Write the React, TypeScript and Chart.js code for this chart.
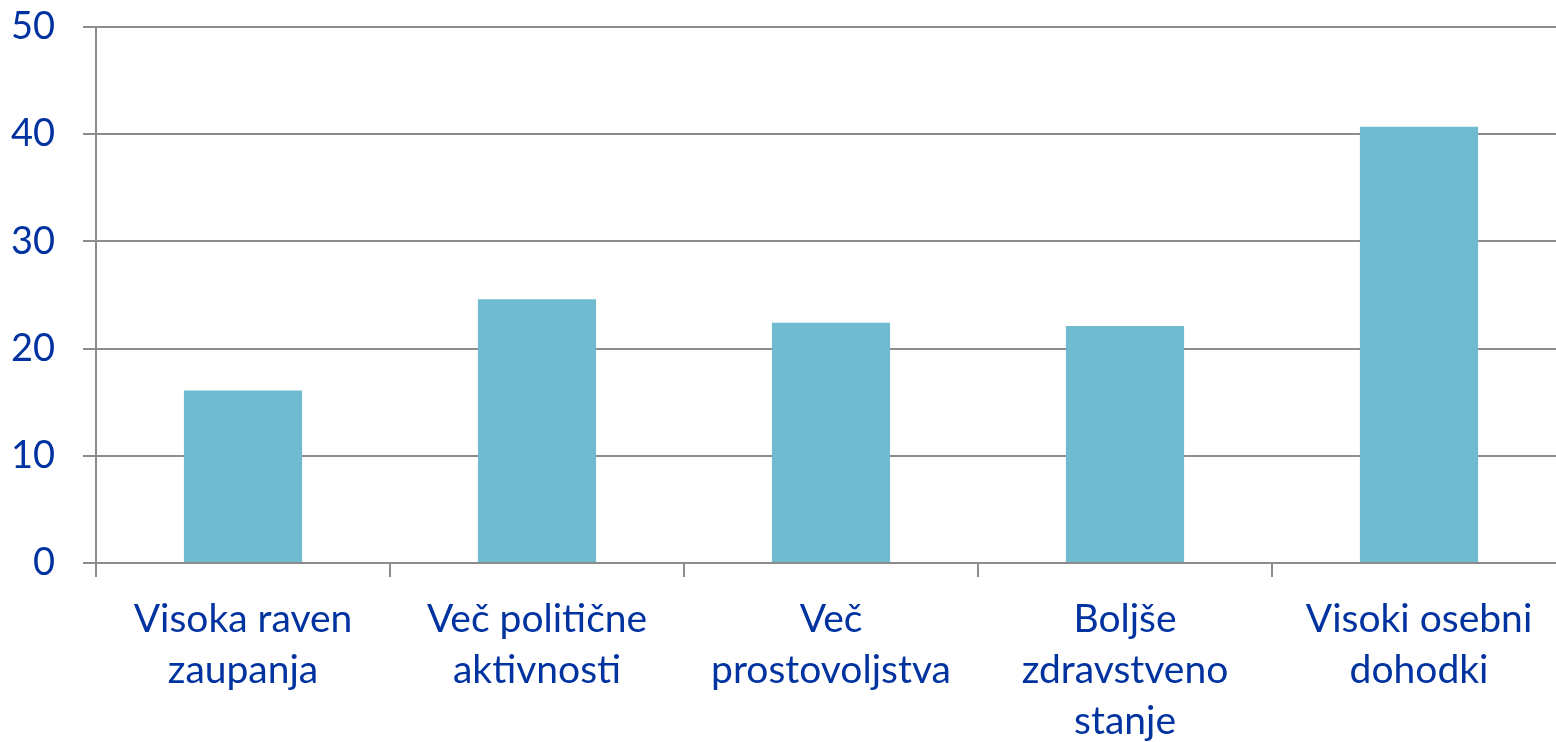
import React, { useEffect, useRef } from "react";
import { Chart, registerables } from "chart.js";

Chart.register(...registerables);

const categories: string[][] = [
  ["Visoka raven", "zaupanja"],
  ["Več politične", "aktivnosti"],
  ["Več", "prostovoljstva"],
  ["Boljše", "zdravstveno", "stanje"],
  ["Visoki osebni", "dohodki"],
];
const values: number[] = [16.1, 24.6, 22.4, 22.1, 40.7];
const yTicks: number[] = [0, 10, 20, 30, 40, 50];

const TEXT = "#0033A0";
const GRID = "#8c8c8c";
const BAR = "#70BBD0";
const FONT = "Lato, 'Open Sans', sans-serif";

export default function App() {
  const ref = useRef<HTMLCanvasElement | null>(null);
  useEffect(() => {
    document.body.style.margin = "0";
    const chart = new Chart(ref.current!, {
      type: "bar",
      data: {
        labels: categories,
        datasets: [
          {
            data: values,
            backgroundColor: BAR,
            barPercentage: 0.402,
            categoryPercentage: 1,
          },
        ],
      },
      options: {
        animation: false,
        responsive: false,
        maintainAspectRatio: false,
        layout: { padding: { top: 27, right: 0, left: 0, bottom: 0 } },
        plugins: { legend: { display: false }, tooltip: { enabled: false } },
        scales: {
          x: {
            grid: {
              offset: true,
              drawOnChartArea: false,
              color: GRID,
              lineWidth: 2,
              tickLength: 14,
            },
            border: { display: false },
            ticks: {
              color: TEXT,
              font: { family: FONT, size: 39, lineHeight: 1.31 },
              padding: 17,
              maxRotation: 0,
              autoSkip: false,
            },
            afterFit: (s: any) => {
              s.height = 179;
              s.paddingLeft = 0;
              s.paddingRight = 0;
            },
          },
          y: {
            min: 0,
            max: 50,
            afterBuildTicks: (s: any) => {
              s.ticks = yTicks.map((v) => ({ value: v }));
            },
            grid: { color: GRID, lineWidth: 2, tickLength: 13 },
            border: { display: true, color: GRID, width: 2 },
            ticks: {
              color: TEXT,
              font: { family: FONT, size: 38 },
              padding: 28,
            },
            afterFit: (s: any) => {
              s.width = 96;
              s.paddingTop = 0;
              s.paddingBottom = 0;
            },
          },
        },
      },
    });
    return () => chart.destroy();
  }, []);
  return (
    <div
      style={{
        position: "absolute",
        left: 0,
        top: 0,
        width: 1556,
        height: 742,
        overflow: "hidden",
      }}
    >
      <canvas ref={ref} width={1566} height={742} style={{ display: "block" }} />
    </div>
  );
}
